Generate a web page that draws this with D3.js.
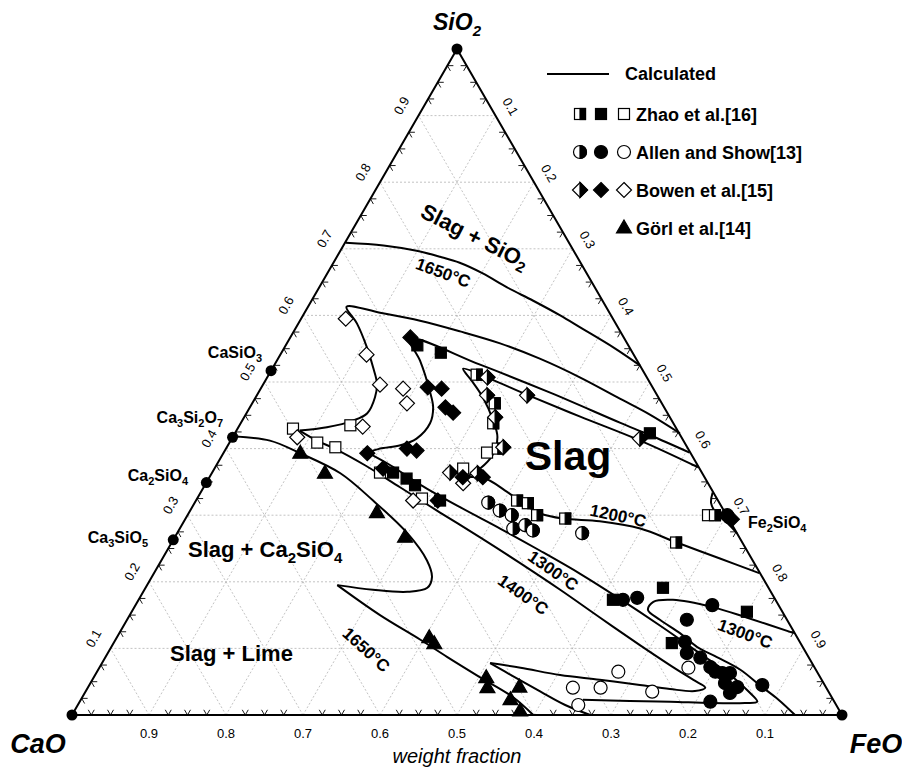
<!DOCTYPE html>
<html>
<head>
<meta charset="utf-8">
<script src="https://cdn.jsdelivr.net/npm/d3@7"></script>
<style>
  body { margin: 0; background: #fff; }
  svg { display: block; font-family: "Liberation Sans", Arial, sans-serif; }
</style>
</head>
<body>
<div id="chart"></div>
<script>
// all compositions are [FeO, SiO2] weight fractions (CaO = 1 - FeO - SiO2)

// calculated isotherms
const iso1650Silica = [[0.001,0.709],[0.052,0.705],[0.099,0.697],[0.134,0.688],[0.164,0.679],[0.202,0.663],[0.244,0.642],[0.288,0.622],[0.334,0.600],[0.369,0.582],[0.427,0.552],[0.475,0.525]];
const iso1650Lime1 = [[0.002,0.418],[0.051,0.412],[0.100,0.393],[0.167,0.363],[0.230,0.322],[0.299,0.273],[0.345,0.232],[0.364,0.207],[0.366,0.191],[0.343,0.185],[0.297,0.188],[0.247,0.195]];
const iso1650Lime2 = [[0.247,0.195],[0.325,0.150],[0.396,0.113],[0.444,0.087],[0.501,0.057],[0.559,0.027],[0.599,0.000]];
const iso1400Top = [[0.578,0.423],[0.525,0.451],[0.474,0.475],[0.406,0.507],[0.340,0.535],[0.277,0.558],[0.216,0.576],[0.156,0.592],[0.098,0.604],[0.050,0.613],[0.076,0.588],[0.107,0.552],[0.130,0.522],[0.147,0.498],[0.155,0.477],[0.157,0.453],[0.144,0.442],[0.115,0.432],[0.082,0.427]];
const iso1400Band = [[0.082,0.427],[0.112,0.412],[0.141,0.400],[0.193,0.375],[0.255,0.342],[0.326,0.304],[0.396,0.267],[0.468,0.228],[0.540,0.188],[0.613,0.146],[0.685,0.105],[0.739,0.075],[0.780,0.053],[0.802,0.041],[0.791,0.036],[0.757,0.039],[0.715,0.045],[0.659,0.053],[0.604,0.060],[0.547,0.071],[0.504,0.078]];
const iso1400Foot = [[0.504,0.078],[0.548,0.056],[0.591,0.035],[0.633,0.015],[0.673,0.000]];
const iso1300Top = [[0.605,0.394],[0.541,0.420],[0.492,0.439],[0.379,0.484],[0.267,0.526],[0.156,0.565],[0.186,0.532],[0.221,0.487],[0.238,0.462],[0.246,0.438],[0.240,0.415],[0.224,0.405],[0.200,0.400],[0.187,0.394]];
const iso1300Band = [[0.187,0.394],[0.226,0.375],[0.279,0.346],[0.348,0.312],[0.416,0.280],[0.484,0.247],[0.554,0.212],[0.625,0.174],[0.697,0.134],[0.770,0.092],[0.825,0.060],[0.860,0.036],[0.880,0.020],[0.865,0.018],[0.820,0.018],[0.767,0.020],[0.714,0.021],[0.652,0.023]];
const iso1300Wustite = [[0.876,0.123],[0.804,0.146],[0.751,0.162],[0.694,0.173],[0.670,0.170],[0.669,0.158],[0.692,0.143],[0.728,0.123],[0.761,0.102],[0.794,0.087],[0.834,0.068],[0.872,0.044],[0.906,0.023],[0.939,0.000]];
const iso1200Top = [[0.627,0.372],[0.532,0.412],[0.436,0.448],[0.350,0.481],[0.290,0.505],[0.248,0.520],[0.268,0.502],[0.295,0.477],[0.326,0.442],[0.344,0.417],[0.351,0.390],[0.345,0.370],[0.333,0.357]];
const iso1200Band = [[0.333,0.357],[0.359,0.355],[0.394,0.337],[0.425,0.319],[0.456,0.303],[0.490,0.295],[0.540,0.291],[0.598,0.280],[0.656,0.259],[0.724,0.235],[0.786,0.213]];
const iso1200Fayalite = [[0.665,0.334],[0.671,0.318],[0.685,0.303],[0.706,0.289],[0.727,0.273]];

// Zhao et al.[16]
const zhaoHalf = [[0.270,0.511],[0.315,0.468],[0.328,0.438],[0.353,0.400],[0.417,0.322],[0.433,0.318],[0.454,0.300],[0.493,0.295],[0.655,0.259],[0.685,0.300]];
const zhaoFilled = [[0.171,0.555],[0.207,0.544],[0.235,0.364],[0.257,0.355],[0.273,0.345],[0.317,0.322],[0.539,0.423],[0.616,0.173],[0.672,0.191],[0.799,0.155],[0.725,0.108]];
const zhaoOpen = [[0.072,0.430],[0.144,0.435],[0.114,0.409],[0.141,0.402],[0.218,0.364],[0.292,0.325],[0.342,0.394],[0.323,0.370],[0.676,0.300]];
// Allen and Show[13]
const allenHalf = [[0.381,0.319],[0.402,0.307],[0.421,0.300],[0.433,0.280],[0.446,0.285],[0.460,0.277],[0.526,0.273]];
const allenFilled = [[0.701,0.300],[0.629,0.173],[0.646,0.176],[0.749,0.165],[0.727,0.143],[0.741,0.110],[0.752,0.093],[0.773,0.086],[0.793,0.072],[0.803,0.065],[0.813,0.063],[0.823,0.063],[0.824,0.048],[0.843,0.042],[0.838,0.033],[0.874,0.045],[0.819,0.020]];
const allenOpen = [[0.677,0.065],[0.630,0.041],[0.666,0.041],[0.736,0.035],[0.765,0.071],[0.650,0.015]];
// Bowen et al.[15]
const bowenHalf = [[0.286,0.507],[0.299,0.480],[0.326,0.447],[0.359,0.402],[0.351,0.480],[0.309,0.364],[0.345,0.363],[0.530,0.415]];
const bowenFilled = [[0.156,0.567],[0.216,0.492],[0.235,0.490],[0.254,0.462],[0.268,0.454],[0.187,0.393],[0.219,0.370],[0.235,0.400],[0.249,0.397],[0.314,0.322],[0.329,0.357],[0.355,0.357],[0.710,0.294]];
const bowenOpen = [[0.058,0.595],[0.112,0.541],[0.152,0.496],[0.185,0.490],[0.201,0.468],[0.161,0.433],[0.084,0.417],[0.334,0.348],[0.282,0.322]];
// Görl et al.[14]
const gorlFilled = [[0.100,0.393],[0.147,0.363],[0.244,0.304],[0.299,0.267],[0.406,0.116],[0.417,0.107],[0.510,0.056],[0.519,0.041],[0.560,0.042],[0.558,0.023],[0.579,0.006]];

// compounds on the binaries
const compoundNames = ['CaSiO3', 'Ca3Si2O7', 'Ca2SiO4', 'Ca3SiO5', 'Fe2SiO4'];
const compoundComps = [[0, 0.517], [0, 0.417], [0, 0.349], [0, 0.263], [0.705, 0.295]];
const vertexComps = [[0, 0], [1, 0], [0, 1]];
const vertexNames = ['CaO', 'FeO', 'SiO2'];
const majorTicks = [0.1, 0.2, 0.3, 0.4, 0.5, 0.6, 0.7, 0.8, 0.9];

const svg = d3.select('#chart').append('svg')
    .attr('width', 902).attr('height', 768);
svg.append('rect').attr('width', 902).attr('height', 768).attr('fill', '#fff');

// ternary -> screen
const X = d3.scaleLinear().domain([0, 1]).range([72, 842]);
const Y = d3.scaleLinear().domain([0, 1]).range([715, 49]);
const px = d => X(d[0] + d[1] / 2);
const py = d => Y(d[1]);

// grid
const grid = svg.append('g')
    .attr('stroke', '#b4b4b4').attr('stroke-width', 0.8).attr('stroke-dasharray', '2,2');
majorTicks.forEach(v => {
    [[[0, v], [1 - v, v]], [[v, 0], [v, 1 - v]], [[1 - v, 0], [0, 1 - v]]].forEach(([a, b]) => {
        grid.append('line')
            .attr('x1', px(a)).attr('y1', py(a))
            .attr('x2', px(b)).attr('y2', py(b));
    });
});

// triangle frame
svg.append('path')
    .attr('d', d3.line().x(px).y(py)([...vertexComps, vertexComps[0]]))
    .attr('fill', 'none').attr('stroke', '#000').attr('stroke-width', 2);

// minor ticks, two short strokes along the other grid directions
const minor = d3.range(1, 40).filter(k => k % 4).map(k => k / 40);
const tickG = svg.append('g').attr('stroke', '#000').attr('stroke-width', 0.9);
const tl = 6;
const s3 = Math.sqrt(3) / 2;
function tick(p, dirs) {
    dirs.forEach(([dx, dy]) => {
        tickG.append('line')
            .attr('x1', px(p)).attr('y1', py(p))
            .attr('x2', px(p) + dx * tl).attr('y2', py(p) + dy * tl);
    });
}
minor.forEach(v => {
    tick([v, 0], [[0.5, -s3], [-0.5, -s3]]);
    tick([0, v], [[1, 0], [0.5, s3]]);
    tick([v, 1 - v], [[-1, 0], [-0.5, s3]]);
});

// tick labels
const lab = svg.append('g').attr('font-size', 13).attr('fill', '#000');
majorTicks.forEach(v => {
    // CaO along the bottom
    lab.append('text')
        .attr('x', X(1 - v)).attr('y', 738)
        .attr('text-anchor', 'middle')
        .text(d3.format('.1f')(v));
    // SiO2 along the left edge
    const lx = px([0, v]) - 17, ly = py([0, v]) - 10;
    lab.append('text')
        .attr('transform', `translate(${lx},${ly}) rotate(-60)`)
        .attr('text-anchor', 'middle').attr('dominant-baseline', 'central')
        .text(d3.format('.1f')(v));
    // FeO along the right edge
    const rx = px([v, 1 - v]) + 15, ry = py([v, 1 - v]) - 9;
    lab.append('text')
        .attr('transform', `translate(${rx},${ry}) rotate(60)`)
        .attr('text-anchor', 'middle').attr('dominant-baseline', 'central')
        .text(d3.format('.1f')(v));
});

// isotherms
const line = d3.line().x(px).y(py).curve(d3.curveCatmullRom.alpha(0.5));
[iso1650Silica, iso1650Lime1, iso1650Lime2, iso1400Top, iso1400Band, iso1400Foot,
 iso1300Top, iso1300Band, iso1300Wustite, iso1200Top, iso1200Band, iso1200Fayalite].forEach(c => {
    svg.append('path')
        .attr('d', line(c))
        .attr('fill', 'none').attr('stroke', '#000').attr('stroke-width', 2)
        .attr('stroke-linejoin', 'round');
});

// markers
const mk = svg.append('g').attr('stroke', '#000').attr('stroke-width', 1.2);
function marker(g, shape, fill, x, y) {
    const m = g.append('g').attr('transform', `translate(${x},${y})`);
    const bg = fill === 'filled' ? '#000' : '#fff';
    if (shape === 'square') {
        m.append('rect').attr('x', -5.5).attr('y', -5.5).attr('width', 11).attr('height', 11).attr('fill', bg);
        if (fill === 'half') m.append('rect').attr('x', 0).attr('y', -5.5).attr('width', 5.5).attr('height', 11).attr('fill', '#000');
    } else if (shape === 'circle') {
        m.append('circle').attr('r', 6.5).attr('fill', bg);
        if (fill === 'half') m.append('path').attr('d', 'M0,-6.5A6.5,6.5 0 0 1 0,6.5Z').attr('fill', '#000');
    } else if (shape === 'diamond') {
        m.append('path').attr('d', 'M0,-7.5L7.5,0L0,7.5L-7.5,0Z').attr('fill', bg);
        if (fill === 'half') m.append('path').attr('d', 'M0,-7.5L7.5,0L0,7.5Z').attr('fill', '#000');
    } else {
        m.append('path').attr('d', 'M0,-8L7.5,5L-7.5,5Z').attr('fill', '#000');
    }
}
const series = [
    ['square', 'open', zhaoOpen], ['diamond', 'open', bowenOpen], ['circle', 'open', allenOpen],
    ['square', 'half', zhaoHalf], ['diamond', 'half', bowenHalf], ['circle', 'half', allenHalf],
    ['square', 'filled', zhaoFilled], ['diamond', 'filled', bowenFilled], ['circle', 'filled', allenFilled],
    ['triangle', 'filled', gorlFilled]
];
series.forEach(([shape, fill, pts]) => pts.forEach(d => marker(mk, shape, fill, px(d), py(d))));

// vertex and compound dots
[...vertexComps, ...compoundComps].forEach(d => {
    svg.append('circle').attr('cx', px(d)).attr('cy', py(d)).attr('r', 5.5).attr('fill', '#000');
});

// text with digit subscripts
function formula(t, str, big, small) {
    let sub = false;
    str.split(/(\d+)/).filter(s => s.length).forEach(part => {
        const isNum = /^\d+$/.test(part);
        const dy = isNum === sub ? 0 : (isNum ? big * 0.28 : -big * 0.28);
        t.append('tspan').attr('font-size', isNum ? small : big).attr('dy', dy).text(part);
        sub = isNum;
    });
    return t;
}
function txt(x, y, opts) {
    const t = svg.append('text').attr('x', x).attr('y', y)
        .attr('font-weight', opts.weight || 'bold')
        .attr('font-style', opts.style || 'normal')
        .attr('text-anchor', opts.anchor || 'start')
        .attr('font-size', opts.size);
    if (opts.rotate) t.attr('transform', `rotate(${opts.rotate},${x},${y})`).attr('dominant-baseline', 'central');
    return t;
}

// compound labels
const compPos = [[262, 358, 'end'], [223, 423, 'end'], [188, 481, 'end'], [148, 543, 'end'], [748, 528, 'start']];
compoundNames.forEach((n, i) => {
    formula(txt(compPos[i][0], compPos[i][1], { size: 16, anchor: compPos[i][2] }), n, 16, 11);
});

// vertex labels
formula(txt(457, 30, { size: 23, style: 'italic', anchor: 'middle' }), vertexNames[2], 23, 15);
txt(38, 753, { size: 27, style: 'italic', anchor: 'middle' }).text(vertexNames[0]);
txt(876, 753, { size: 27, style: 'italic', anchor: 'middle' }).text(vertexNames[1]);
txt(457, 763, { size: 20, style: 'italic', weight: 'normal', anchor: 'middle' }).text('weight fraction');

// region and isotherm labels
formula(txt(475, 236, { size: 22, anchor: 'middle', rotate: 27 }), 'Slag + SiO2', 22, 15);
formula(txt(188, 557, { size: 22 }), 'Slag + Ca2SiO4', 22, 15);
txt(170, 661, { size: 22 }).text('Slag + Lime');
txt(568, 470, { size: 41, anchor: 'middle' }).text('Slag');
txt(443, 273, { size: 17, anchor: 'middle', rotate: 20 }).text('1650°C');
txt(618, 516, { size: 17, anchor: 'middle', rotate: 12 }).text('1200°C');
txt(553, 571, { size: 17, anchor: 'middle', rotate: 35 }).text('1300°C');
txt(523, 595, { size: 17, anchor: 'middle', rotate: 35 }).text('1400°C');
txt(745, 634, { size: 17, anchor: 'middle', rotate: 20 }).text('1300°C');
txt(366, 650, { size: 17, anchor: 'middle', rotate: 42 }).text('1650°C');

// legend
const leg = svg.append('g');
leg.append('line').attr('x1', 547).attr('x2', 609).attr('y1', 74).attr('y2', 74)
    .attr('stroke', '#000').attr('stroke-width', 2);
leg.append('text').attr('x', 625).attr('y', 80).attr('font-size', 18).attr('font-weight', 'bold').text('Calculated');
const legRows = [
    ['square', 'Zhao et al.[16]'],
    ['circle', 'Allen and Show[13]'],
    ['diamond', 'Bowen et al.[15]'],
    ['triangle', 'Görl et al.[14]']
];
const legG = leg.append('g').attr('stroke', '#000').attr('stroke-width', 1.2);
legRows.forEach(([shape, name], i) => {
    const y = 114 + i * 38;
    if (shape === 'triangle') {
        marker(legG, shape, 'filled', 624, y);
    } else {
        marker(legG, shape, 'half', 580, y);
        marker(legG, shape, 'filled', 601, y);
        marker(legG, shape, 'open', 624, y);
    }
    leg.append('text').attr('x', 636).attr('y', y + 7).attr('font-size', 18).attr('font-weight', 'bold').text(name);
});
</script>
</body>
</html>
